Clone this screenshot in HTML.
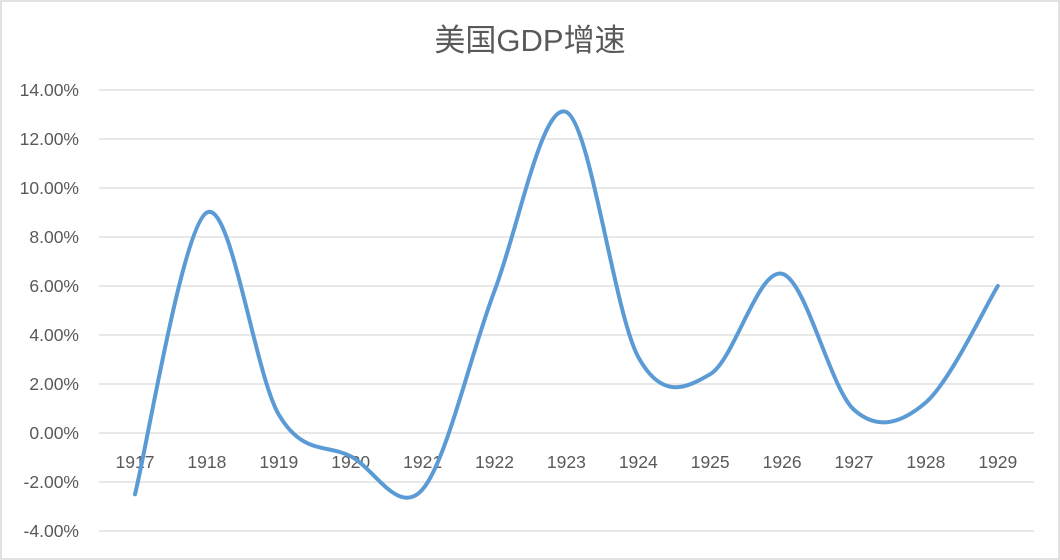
<!DOCTYPE html>
<html><head><meta charset="utf-8"><style>
html,body{margin:0;padding:0;background:#fff}
svg{display:block}
text{font-family:"Liberation Sans","Noto Sans CJK SC",sans-serif;fill:#595959}
</style></head><body>
<svg id="s" width="1060" height="560" xmlns="http://www.w3.org/2000/svg">
<rect x="1" y="1" width="1058" height="558" fill="#fff" stroke="#d9d9d9" stroke-width="1.5"/>
<text x="530" y="51" text-anchor="middle" font-size="31">美国GDP增速</text>
<g id="grid" stroke="#d9d9d9" stroke-width="1.3"></g>
<g id="yl" font-size="17.5" text-anchor="end"></g>
<g id="xl" font-size="17.5" text-anchor="middle"></g>
<path id="p" fill="none" stroke="#5b9bd5" stroke-width="4" stroke-linecap="round" stroke-linejoin="round"/>
</svg>
<script>
var NS="http://www.w3.org/2000/svg";
function y(v){return 433-v*24.5;}
var g=document.getElementById('grid'),yl=document.getElementById('yl'),xl=document.getElementById('xl');
for(var v=-4;v<=14;v+=2){
 var l=document.createElementNS(NS,'line');l.setAttribute('x1',99);l.setAttribute('x2',1034);l.setAttribute('y1',y(v));l.setAttribute('y2',y(v));g.appendChild(l);
 var t=document.createElementNS(NS,'text');t.setAttribute('x',79);t.setAttribute('y',y(v)+6);t.textContent=v.toFixed(2)+'%';yl.appendChild(t);
}
var data=[-2.5,9.0,0.75,-0.95,-2.3,5.8,13.1,3.1,2.4,6.5,0.95,1.25,6.0];
var pts=[];
for(var i=0;i<13;i++){
 var x=135+i*71.9;pts.push([x,y(data[i])]);
 var t=document.createElementNS(NS,'text');t.setAttribute('x',x);t.setAttribute('y',468);t.textContent=1917+i;xl.appendChild(t);
}
var d='M'+pts[0][0]+','+pts[0][1];
for(var i=0;i<pts.length-1;i++){
 var p0=pts[i-1]||pts[i],p1=pts[i],p2=pts[i+1],p3=pts[i+2]||p2;
 var c1=[p1[0]+(p2[0]-p0[0])/6,p1[1]+(p2[1]-p0[1])/6];
 var c2=[p2[0]-(p3[0]-p1[0])/6,p2[1]-(p3[1]-p1[1])/6];
 d+=' C'+c1+' '+c2+' '+p2;
}
document.getElementById('p').setAttribute('d',d);
</script>
</body></html>
